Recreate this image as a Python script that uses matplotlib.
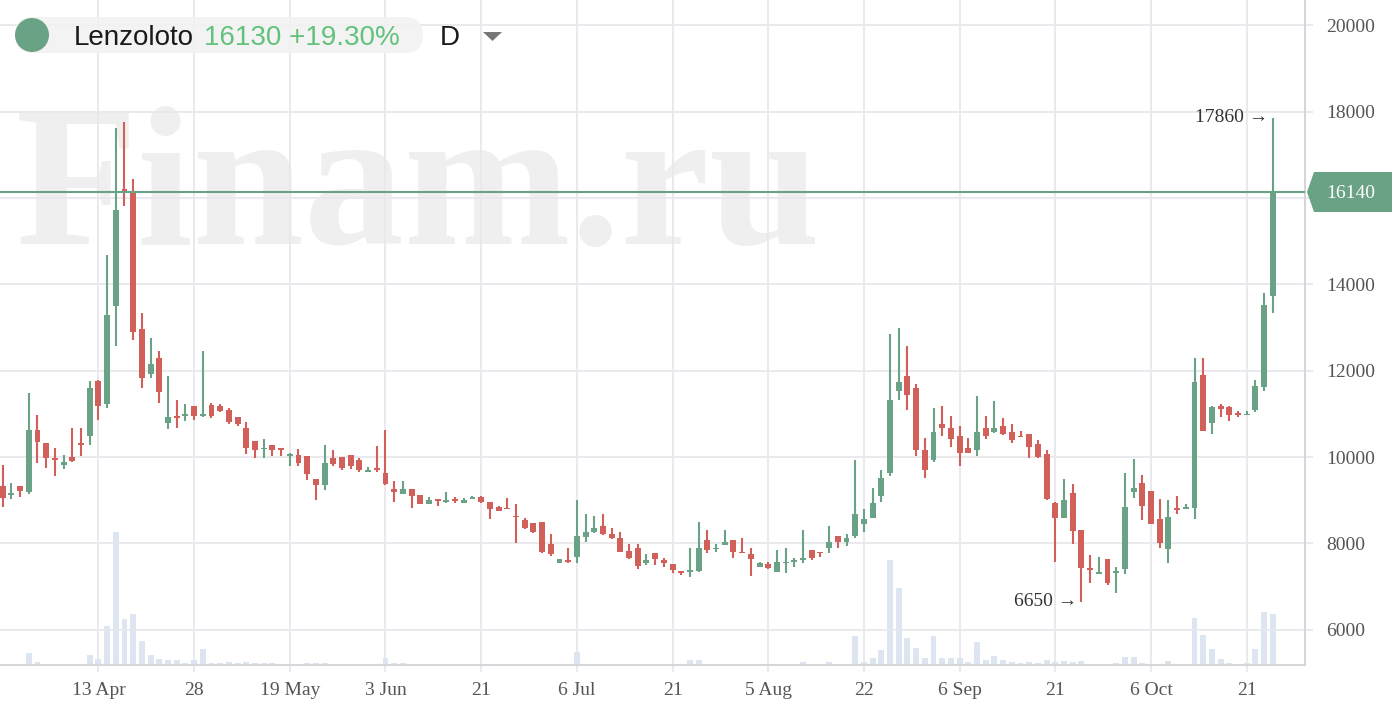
import matplotlib
matplotlib.use("Agg")
import matplotlib.pyplot as plt
from matplotlib.patches import Polygon, Circle, FancyBboxPatch
import numpy as np

# ---------------- data ----------------
ticker = "Lenzoloto"
last_price = 16130
change_pct = "+19.30%"
timeframe = "D"
current_line = 16140

tick_pos = [11, 22, 33, 44, 55, 66, 77, 88, 99, 110, 121, 132, 143]
tick_labels = ["13 Apr", "28", "19 May", "3 Jun", "21", "6 Jul", "21",
               "5 Aug", "22", "6 Sep", "21", "6 Oct", "21"]
price_ticks = [6000, 8000, 10000, 12000, 14000, 16000, 18000, 20000]

opens = [9319, 9115, 9320, 9186, 10628, 10336, 9982, 9805, 9990, 10310,
         10487, 11770, 11221, 13505, 16213, 16160, 12974, 11929, 12283, 10779,
         10947, 10947, 11177, 10956, 11200, 11190, 11089, 10934, 10661, 10373,
         10179, 10272, 10195, 10023, 10054, 10015, 9494, 9362, 9977, 10000,
         10054, 9922, 9650, 9743, 9634, 9261, 9144, 9261, 9129, 8911,
         9028, 8964, 9026, 8941, 9034, 9065, 8964, 8833, 8810, 8632,
         8539, 8462, 8485, 7982, 7534, 7611, 7673, 8137, 8269, 8400,
         8214, 8114, 7828, 7882, 7534, 7781, 7611, 7511, 7364, 7341,
         7364, 8075, 7859, 7959, 8075, 7790, 7750, 7457, 7519, 7341,
         7534, 7557, 7611, 7843, 7790, 7897, 8168, 8021, 8168, 8458,
         8597, 9101, 9620, 11535, 11883, 11597, 10163, 9930, 10767, 10682,
         10488, 10217, 10163, 10667, 10589, 10721, 10574, 10473, 10535, 10302,
         10070, 8923, 8590, 9170, 8303, 7418, 7289, 7631, 7308, 7400,
         9198, 9401, 9216, 8571, 7880, 8829, 8801, 8811, 11890, 10784,
         11180, 11152, 11014, 10968, 11088, 11613, 13734]
highs = [9805, 9407, 9320, 11487, 10982, 10336, 10204, 10044, 10664, 10664,
         11770, 11790, 14690, 17620, 17752, 16443, 13345, 12752, 12460, 11885,
         11310, 11221, 11177, 12460, 11240, 11230, 11128, 10934, 10801, 10373,
         10428, 10272, 10195, 10093, 10195, 10015, 9494, 10288, 10156, 10000,
         10054, 9977, 9767, 10249, 10622, 9455, 9455, 9261, 9129, 9082,
         9028, 9181, 9080, 9041, 9096, 9096, 8964, 8864, 9041, 8902,
         8593, 8462, 8485, 8207, 7635, 7882, 9003, 8670, 8632, 8670,
         8346, 8253, 7982, 7982, 7750, 7781, 7650, 7511, 7364, 7882,
         8485, 8307, 7982, 8307, 8075, 8114, 7882, 7557, 7557, 7843,
         7882, 7650, 8307, 7843, 7790, 8408, 8168, 8214, 9930, 8806,
         9271, 9698, 12860, 12992, 12581, 11697, 10434, 11132, 11186, 10953,
         10721, 10434, 11418, 10953, 11287, 10899, 10767, 10612, 10535, 10395,
         10163, 8961, 9500, 9364, 8303, 7723, 7677, 7631, 7446, 9640,
         9963, 9585, 9216, 9032, 8995, 9087, 8903, 12305, 12305, 11180,
         11226, 11180, 11060, 11060, 11779, 13789, 17860]
lows = [8832, 9035, 9070, 9142, 9850, 9743, 9566, 9717, 9894, 10027,
        10274, 10867, 11133, 12575, 15823, 12708, 11602, 11823, 11248, 10646,
        10673, 10840, 10867, 10929, 10900, 11050, 10762, 10716, 10078, 9984,
        9984, 10023, 10023, 9790, 9790, 9471, 9004, 9238, 9790, 9704,
        9728, 9650, 9650, 9650, 9362, 8950, 9144, 8810, 8911, 8911,
        8872, 8926, 8926, 8941, 9034, 8926, 8554, 8748, 8786, 7998,
        8323, 8230, 7766, 7712, 7534, 7534, 7534, 8037, 8245, 8191,
        8091, 7805, 7627, 7395, 7496, 7496, 7441, 7302, 7256, 7210,
        7341, 7766, 7805, 7959, 7666, 7766, 7248, 7457, 7395, 7325,
        7302, 7441, 7534, 7611, 7673, 7766, 7897, 7944, 8125, 8264,
        8597, 8961, 9566, 11325, 11093, 10031, 9504, 9876, 10488, 10225,
        9791, 10085, 10031, 10411, 10550, 10511, 10318, 10457, 9985, 9985,
        9001, 7566, 8590, 7981, 6650, 7077, 7280, 7031, 6847, 7280,
        9060, 8534, 8442, 7889, 7538, 8672, 8801, 8571, 10599, 10535,
        10922, 10839, 10922, 10968, 11042, 11521, 13347]
closes = [9053, 9150, 9212, 10628, 10354, 9982, 9938, 9894, 9900, 10274,
          11593, 11177, 13301, 15717, 16106, 12903, 11823, 12150, 11513, 10929,
          10912, 10982, 10956, 11000, 10950, 11060, 10817, 10762, 10210, 10171,
          10210, 10155, 10171, 10054, 9868, 9611, 9362, 9868, 9829, 9743,
          9782, 9689, 9673, 9704, 9378, 9183, 9261, 9090, 8911, 9012,
          8989, 9003, 8987, 9003, 9065, 8964, 8786, 8748, 8786, 8601,
          8361, 8268, 7805, 7751, 7635, 7573, 8176, 8253, 8361, 8214,
          8114, 7805, 7650, 7480, 7611, 7627, 7534, 7380, 7302, 7364,
          7882, 7843, 7897, 8021, 7805, 7766, 7627, 7534, 7434, 7557,
          7557, 7611, 7650, 7650, 7766, 8021, 8021, 8129, 8672, 8574,
          8946, 9504, 11325, 11736, 11426, 10163, 9698, 10574, 10682, 10411,
          10085, 10101, 10574, 10488, 10667, 10535, 10395, 10457, 10225, 10008,
          9024, 8597, 9000, 8276, 7428, 7372, 7326, 7077, 7354, 8847,
          9272, 8875, 8442, 8018, 8617, 8783, 8829, 11733, 10599, 11152,
          11106, 10968, 10968, 10996, 11641, 13513, 16140]
volumes = [1, 1, 1, 12, 3, 1, 1, 1, 1, 1, 10, 6, 39, 133, 46, 51, 24, 10, 6, 5, 5, 2, 5, 16, 2,
           2, 3, 2, 3, 2, 2, 2, 1, 1, 1, 2, 2, 2, 1, 1, 1, 1, 1, 1, 7, 2, 2, 1, 1, 1,
           1, 1, 1, 1, 1, 1, 1, 1, 1, 1, 1, 1, 1, 1, 1, 1, 13, 1, 1, 1, 1, 1, 1, 1, 1,
           1, 1, 1, 1, 5, 5, 1, 1, 1, 1, 1, 1, 1, 1, 1, 1, 1, 3, 1, 1, 3, 1, 1,
           29, 3, 7, 15, 105, 77, 27, 17, 7, 29, 7, 7, 7, 3, 23, 5, 9, 5, 3, 2, 3, 2, 5, 3,
           4, 3, 4, 1, 1, 1, 2, 8, 8, 2, 1, 1, 4, 1, 1, 47, 30, 16, 6, 2, 1, 2, 16, 53, 51]

# ---------------- style ----------------
GREEN = "#6aa285"
RED = "#d2605a"
GRID = "#e8e8ed"
SPINE = "#d6d6da"
LABEL = "#555555"
VOLC = "#dde5f0"
SERIF = ["Liberation Serif", "DejaVu Serif"]
SANS = ["Liberation Sans", "DejaVu Sans"]
plt.rcParams["font.family"] = SERIF

W, H = 1392, 716
fig = plt.figure(figsize=(W / 100, H / 100), dpi=100)
fig.patch.set_facecolor("white")


def P(x, y):
    """pixel (from top-left) -> inches for fig.dpi_scale_trans"""
    return (x / 100.0, (H - y) / 100.0)


def F(x, y):
    """pixel (from top-left) -> figure fraction"""
    return (x / W, (H - y) / H)


ax_v = fig.add_axes([0, (H - 665) / H, 1305 / W, 665 / H])
ax = ax_v.twinx()

n = len(opens)
x = np.arange(n)
o = np.array(opens, float)
h = np.array(highs, float)
l = np.array(lows, float)
c = np.array(closes, float)
up = c >= o
cols = np.where(up, GREEN, RED)

ax_v.set_xlim(-0.31, 149.7)
ax.set_ylim(5181, 20589)
ax_v.set_ylim(0, 665)

# volume
ax_v.bar(x, volumes, width=0.68, color=VOLC, zorder=1, linewidth=0)
ax_v.set_yticks([])
for s in ax_v.spines.values():
    s.set_visible(False)

# watermark
ax_v.text(*P(16, 244), "Finam.ru", transform=fig.dpi_scale_trans, fontsize=144,
          fontweight="bold", color="#efefef", family=SERIF, ha="left",
          va="baseline", zorder=0.3)

# x ticks/grid
ax_v.set_xticks(tick_pos)
ax_v.set_xticklabels(tick_labels)
ax_v.tick_params(axis="x", length=5, width=1.5, color=GRID, pad=7,
                 labelsize=14, labelcolor=LABEL)
ax_v.grid(axis="x", color=GRID, linewidth=1.3)
ax_v.set_axisbelow(True)

# price axis (the 16000 label sits under the current-price box)
ax.set_yticks(price_ticks)
ax.set_yticklabels(["" if t == 16000 else str(t) for t in price_ticks])
ax.tick_params(axis="y", length=6, width=1.5, color=GRID, pad=9,
               labelsize=14, labelcolor=LABEL)
ax.grid(axis="y", color=GRID, linewidth=1.3)
ax.set_axisbelow(True)
for k in ("top", "left"):
    ax.spines[k].set_visible(False)
for k in ("bottom", "right"):
    ax.spines[k].set_color(SPINE)
    ax.spines[k].set_linewidth(1.5)

# candles
ax.vlines(x, l, h, colors=cols, linewidth=1.5, zorder=3)
body_bottom = np.minimum(o, c)
body_h = np.maximum(np.abs(c - o), 40)
ax.bar(x, body_h, bottom=body_bottom, width=0.68, color=cols, linewidth=0, zorder=4)

# current price line
ax.axhline(current_line, color=GREEN, linewidth=1.5, zorder=5)

# annotations of extremes
imax = int(np.argmax(h))
imin = int(np.argmin(l))
ax.annotate(f"{h[imax]:.0f} \u2192", xy=(imax, h[imax]), xytext=(-3, 0),
            textcoords="offset points", ha="right", va="center", fontsize=14,
            color="#333333", family=SERIF, zorder=6)
ax.annotate(f"{l[imin]:.0f} \u2192", xy=(imin, l[imin]), xytext=(-3, 0),
            textcoords="offset points", ha="right", va="center", fontsize=14,
            color="#333333", family=SERIF, zorder=6)

# price label box on right axis
box = Polygon([P(1307, 192), P(1314, 172), P(1392, 172), P(1392, 212), P(1314, 212)],
              closed=True, transform=fig.dpi_scale_trans, facecolor=GREEN,
              edgecolor="none", zorder=10)
fig.patches.append(box)
fig.text(*F(1326, 193), f"{current_line}", color="white", fontsize=14, family=SERIF,
         ha="left", va="center", zorder=11)

# legend pill
pill = FancyBboxPatch(P(15, 53), 408 / 100, 36 / 100,
                      boxstyle="round,pad=0,rounding_size=0.18",
                      transform=fig.dpi_scale_trans, facecolor="#f2f2f2",
                      edgecolor="none", alpha=0.9, zorder=10)
fig.patches.append(pill)
circ = Circle(P(32, 35), 0.17, transform=fig.dpi_scale_trans,
              facecolor=GREEN, edgecolor="none", zorder=11)
fig.patches.append(circ)
fig.text(*F(74, 45), ticker, fontsize=20, family=SANS,
         color="#1a1a1a", ha="left", va="baseline", zorder=12)
fig.text(*F(204, 45), f"{last_price} {change_pct}", fontsize=20,
         family=SANS, color="#62c27b", ha="left", va="baseline", zorder=12)
fig.text(*F(440, 45), timeframe, fontsize=20, family=SANS,
         color="#1a1a1a", ha="left", va="baseline", zorder=12)
tri = Polygon([P(483, 32), P(502, 32), P(492.5, 41)], closed=True,
              transform=fig.dpi_scale_trans, facecolor="#777777",
              edgecolor="none", zorder=12)
fig.patches.append(tri)

fig.savefig("out.png", dpi=100, facecolor="white")
